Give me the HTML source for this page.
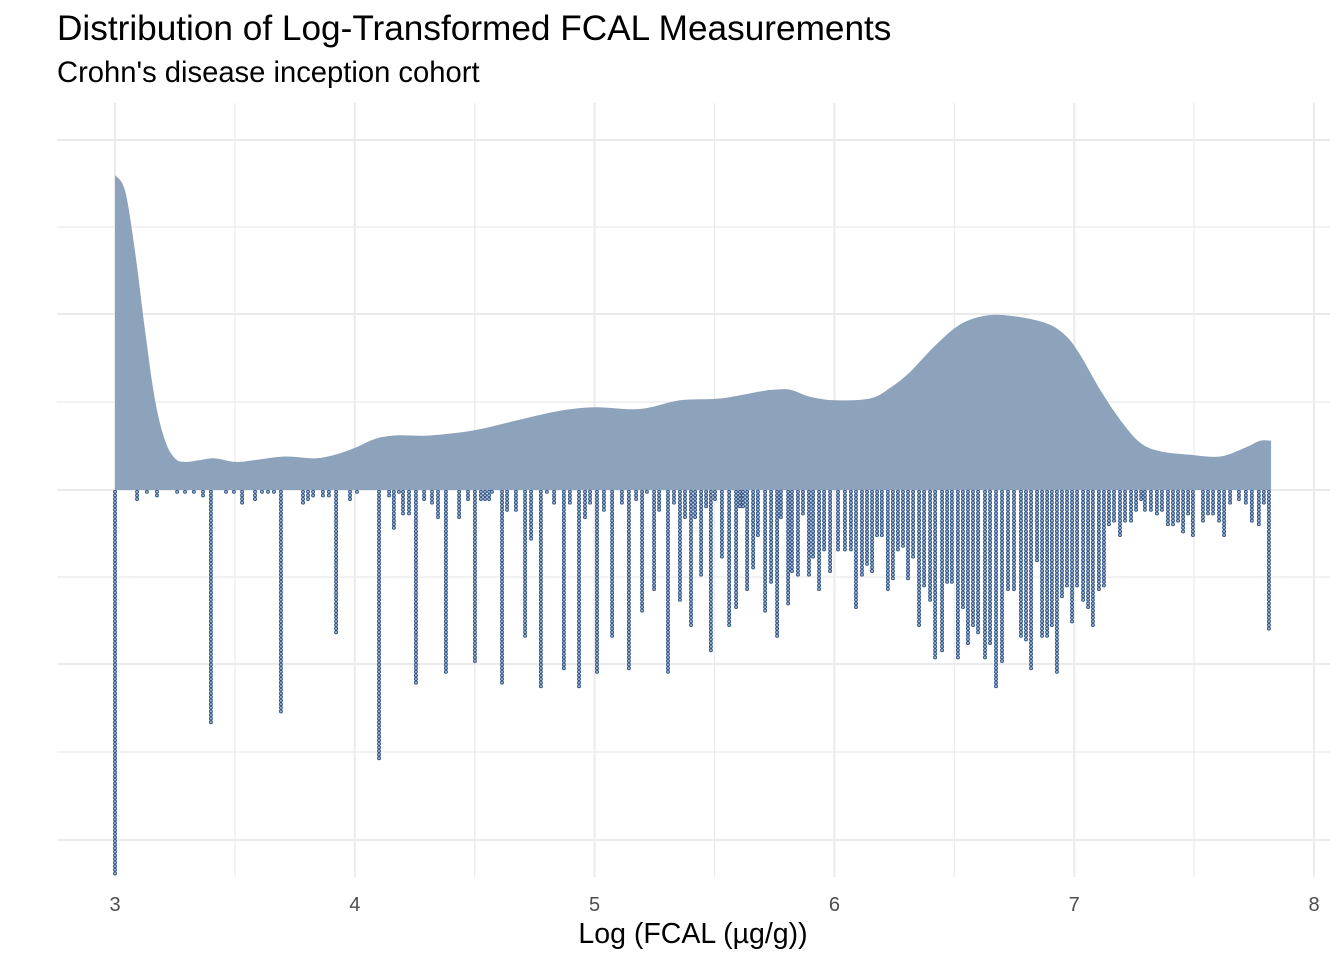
<!DOCTYPE html>
<html><head><meta charset="utf-8"><style>
body{margin:0;background:#fff;}
svg{display:block;font-family:"Liberation Sans",Arial,sans-serif;}
</style></head><body>
<svg id="chart" width="1344" height="960">
<text x="57" y="40" font-size="35.2" fill="#000">Distribution of Log-Transformed FCAL Measurements</text>
<text x="57" y="82" font-size="29.2" fill="#000">Crohn's disease inception cohort</text>
<g id="grid"></g>
<g id="density"></g>
<g id="dots"></g>
<g id="xaxis"></g>
<text x="693" y="943" font-size="28.5" text-anchor="middle" fill="#000">Log (FCAL (µg/g))</text>
</svg>
<script>
const xTicks=[3,4,5,6,7,8];
const densX=[3.0,3.042,3.083,3.125,3.167,3.209,3.25,3.292,3.354,3.417,3.5,3.584,3.709,3.834,3.917,4.001,4.084,4.168,4.314,4.501,4.689,4.856,5.002,5.189,5.356,5.523,5.69,5.752,5.815,5.898,6.002,6.148,6.232,6.315,6.42,6.524,6.628,6.732,6.878,6.962,7.024,7.108,7.191,7.274,7.358,7.483,7.608,7.712,7.775,7.821];
const densY=[1.79,1.70,1.36,0.91,0.51,0.28,0.18,0.16,0.17,0.18,0.16,0.17,0.19,0.18,0.20,0.24,0.29,0.31,0.31,0.34,0.40,0.45,0.47,0.46,0.51,0.52,0.56,0.57,0.57,0.53,0.51,0.52,0.58,0.67,0.82,0.94,0.99,0.99,0.95,0.88,0.77,0.57,0.40,0.27,0.22,0.20,0.19,0.24,0.28,0.28];
const dotX=[3.000,3.092,3.133,3.175,3.259,3.292,3.329,3.367,3.400,3.463,3.496,3.530,3.584,3.613,3.638,3.663,3.692,3.784,3.805,3.826,3.867,3.892,3.922,3.980,4.009,4.101,4.143,4.163,4.184,4.201,4.226,4.255,4.289,4.322,4.347,4.380,4.435,4.472,4.501,4.526,4.543,4.560,4.572,4.614,4.635,4.672,4.710,4.735,4.776,4.801,4.831,4.872,4.897,4.935,4.960,4.981,5.010,5.039,5.073,5.114,5.143,5.173,5.198,5.218,5.248,5.269,5.306,5.331,5.356,5.377,5.402,5.419,5.444,5.465,5.485,5.502,5.531,5.561,5.590,5.606,5.619,5.636,5.661,5.681,5.711,5.736,5.761,5.777,5.807,5.823,5.848,5.869,5.894,5.911,5.936,5.957,5.982,6.015,6.044,6.069,6.090,6.115,6.136,6.157,6.178,6.198,6.223,6.244,6.265,6.286,6.307,6.328,6.353,6.374,6.399,6.420,6.449,6.470,6.490,6.515,6.536,6.557,6.578,6.599,6.628,6.649,6.674,6.699,6.724,6.749,6.778,6.799,6.820,6.845,6.866,6.887,6.907,6.928,6.949,6.970,6.991,7.012,7.037,7.058,7.078,7.103,7.124,7.145,7.166,7.191,7.212,7.237,7.258,7.279,7.295,7.320,7.345,7.366,7.391,7.412,7.433,7.454,7.475,7.495,7.537,7.558,7.579,7.604,7.625,7.650,7.687,7.716,7.741,7.770,7.791,7.812];
const dotN=[107,3,1,2,1,1,1,2,65,1,1,4,3,1,1,1,62,4,3,2,2,2,40,3,1,75,2,11,1,7,7,54,3,4,8,51,8,3,48,3,3,3,1,54,6,6,41,14,55,1,4,50,4,55,8,4,51,6,41,4,50,3,34,1,28,6,51,4,31,8,38,8,24,5,45,3,19,38,33,5,5,28,22,13,34,26,41,8,32,23,24,7,24,19,28,17,23,17,17,17,33,24,21,23,13,13,28,25,17,16,25,19,38,27,31,47,45,26,26,47,33,43,38,40,47,43,55,48,28,28,41,42,50,20,41,41,38,51,30,27,37,27,31,33,38,28,27,10,9,13,9,9,6,3,6,6,7,6,10,10,9,12,7,13,9,7,7,9,13,4,3,4,9,10,4,39];
const NS='http://www.w3.org/2000/svg';
const xs=v=>115+(v-3)*239.8;
const base=490, dScale=176, pitch=3.6;
const ys=d=>base-d*dScale;
function mk(t,a,p){const e=document.createElementNS(NS,t);for(const k in a)e.setAttribute(k,a[k]);p.appendChild(e);return e;}
const grid=document.getElementById('grid');
[[140,2],[227,1.2],[314,2],[402,1.2],[490,2],[577,1.2],[664,2],[752,1.2],[840,2]].forEach(g=>{
 const l=mk('line',{x1:57,x2:1330,y1:g[0],y2:g[0],stroke:'#ebebeb','stroke-width':g[1]},grid);
 
 
});
for(let v=3;v<=8.001;v+=0.5){
 const major=Math.abs(v-Math.round(v))<1e-6;
 const l=mk('line',{x1:xs(v),x2:xs(v),y1:103,y2:877,stroke:'#ebebeb','stroke-width':major?2:1.2},grid);
 
 
}
const pts=densX.map((v,i)=>[xs(v),ys(densY[i])]);
let d='M'+pts[0][0]+','+base+' L'+pts[0][0]+','+pts[0][1];
for(let i=0;i<pts.length-1;i++){
 const p0=pts[Math.max(0,i-1)],p1=pts[i],p2=pts[i+1],p3=pts[Math.min(pts.length-1,i+2)];
 const c1=[p1[0]+(p2[0]-p0[0])/6,p1[1]+(p2[1]-p0[1])/6],c2=[p2[0]-(p3[0]-p1[0])/6,p2[1]-(p3[1]-p1[1])/6];
 d+=' C'+c1+' '+c2+' '+p2;
}
d+=' L'+pts[pts.length-1][0]+','+base+' Z';
const area=mk('path',{d:d,fill:'#8da2bb'},document.getElementById('density'));


const dots=document.getElementById('dots');
dotX.forEach((v,i)=>{
 for(let k=0;k<dotN[i];k++){
  const c=mk('circle',{cx:xs(v),cy:base+1.8+k*pitch,r:1.5,fill:'#a9b8cc',stroke:'#2b5186','stroke-width':0.9},dots);
  
  
 }
});
const xa=document.getElementById('xaxis');
xTicks.forEach(t=>{
 const tx=mk('text',{x:xs(t),y:911,'font-size':20,'text-anchor':'middle',fill:'#4d4d4d'},xa);
 tx.textContent=t;
 
 
});
</script>
</body></html>
